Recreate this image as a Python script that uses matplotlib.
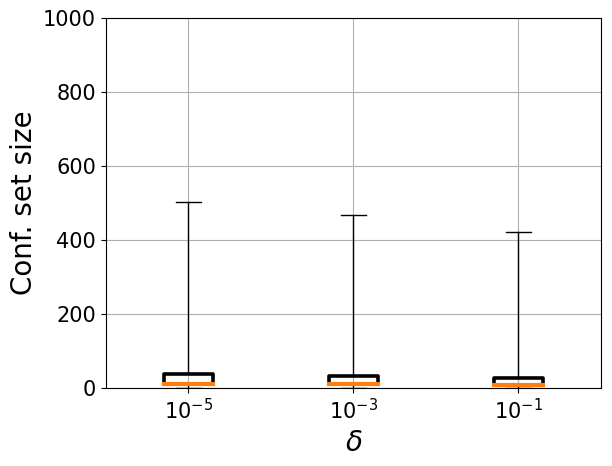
import matplotlib.pyplot as plt

deltas = ["$10^{-5}$", "$10^{-3}$", "$10^{-1}$"]
whislo = [0, 0, 0]
q1 = [11, 11, 8]
med = [11, 11, 8]
q3 = [38, 34, 28]
whishi = [503, 468, 422]

stats = []
for i in range(len(deltas)):
    stats.append({"whislo": whislo[i], "q1": q1[i], "med": med[i],
                  "q3": q3[i], "whishi": whishi[i], "fliers": [],
                  "label": deltas[i]})

fig, ax = plt.subplots(figsize=(6.12, 4.66), dpi=100)
fig.subplots_adjust(left=0.173, right=0.982, top=0.961, bottom=0.167)
ax.bxp(stats, widths=0.3, showfliers=False,
       boxprops=dict(color="black", linewidth=2.6, solid_joinstyle="round"),
       medianprops=dict(color="#ff7f0e", linewidth=3,
                        solid_capstyle="projecting"),
       whiskerprops=dict(color="black", linewidth=1),
       capprops=dict(color="black", linewidth=1))
ax.set_ylim(0, 1000)
ax.set_xlim(0.5, 3.5)
ax.grid(True)
ax.set_axisbelow(True)
ax.tick_params(labelsize=15)
ax.set_xlabel(r"$\delta$", fontsize=20)
ax.set_ylabel("Conf. set size", fontsize=20)
plt.savefig("out.png")
